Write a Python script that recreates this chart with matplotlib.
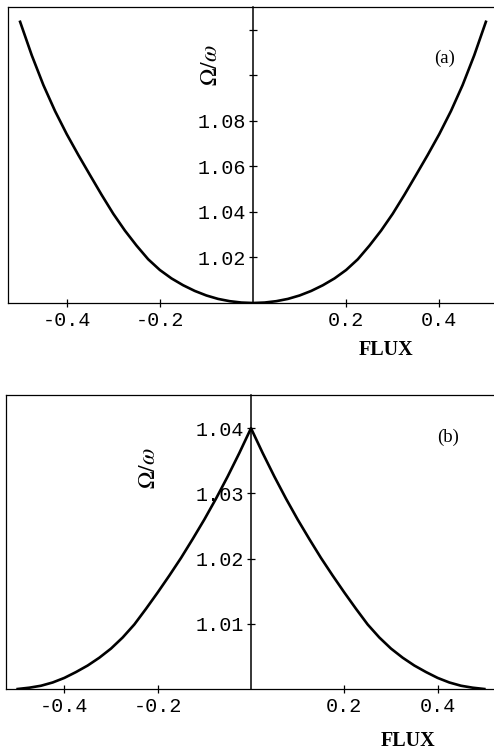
import matplotlib
matplotlib.use("Agg")
import matplotlib.pyplot as plt
from matplotlib.lines import Line2D

plt.rcParams["axes.unicode_minus"] = False

flux = [-0.500, -0.475, -0.450, -0.425, -0.400, -0.375, -0.350, -0.325, -0.300, -0.275,
        -0.250, -0.225, -0.200, -0.175, -0.150, -0.125, -0.100, -0.075, -0.050, -0.025,
        0.000,
        0.025, 0.050, 0.075, 0.100, 0.125, 0.150, 0.175, 0.200, 0.225, 0.250,
        0.275, 0.300, 0.325, 0.350, 0.375, 0.400, 0.425, 0.450, 0.475, 0.500]

# Panel (a): frequency ratio versus flux
ratio_a = [1.1235, 1.1088, 1.0957, 1.0843, 1.0742, 1.0650, 1.0562, 1.0475, 1.0392, 1.0318,
           1.0252, 1.0192, 1.0145, 1.0108, 1.0078, 1.0053, 1.0033, 1.0018, 1.0008, 1.0002,
           1.0000,
           1.0002, 1.0008, 1.0018, 1.0033, 1.0053, 1.0078, 1.0108, 1.0145, 1.0192, 1.0252,
           1.0318, 1.0392, 1.0475, 1.0562, 1.0650, 1.0742, 1.0843, 1.0957, 1.1088, 1.1235]

# Panel (b): frequency ratio versus flux, cusp at zero flux
ratio_b = [1.0000, 1.0002, 1.0005, 1.0010, 1.0017, 1.0026, 1.0036, 1.0048, 1.0062, 1.0079,
           1.0099, 1.0123, 1.0148, 1.0174, 1.0201, 1.0230, 1.0260, 1.0292, 1.0326, 1.0362,
           1.0400,
           1.0362, 1.0326, 1.0292, 1.0260, 1.0230, 1.0201, 1.0174, 1.0148, 1.0123, 1.0099,
           1.0079, 1.0062, 1.0048, 1.0036, 1.0026, 1.0017, 1.0010, 1.0005, 1.0002, 1.0000]

xticks = [-0.4, -0.2, 0.2, 0.4]
xtick_labels = ["-0.4", "-0.2", "0.2", "0.4"]
yticks_a = [1.02, 1.04, 1.06, 1.08, 1.10, 1.12]
ytick_labels_a = ["1.02", "1.04", "1.06", "1.08", "", ""]
yticks_b = [1.01, 1.02, 1.03, 1.04]
ytick_labels_b = ["1.01", "1.02", "1.03", "1.04"]

W, H = 494, 751
fig = plt.figure(figsize=(W / 100, H / 100), dpi=100)
fig.patch.set_facecolor("white")

mono = "Liberation Mono"
serif = "Liberation Serif"


def panel(rect_px, xlim, ylim, xs, ys, yticks, ylabels, tag, tag_xy, ylab_xy, flux_xy):
    l, t, r, b = rect_px
    ax = fig.add_axes([l / W, (H - b) / H, (r - l) / W, (b - t) / H])
    ax.set_xlim(*xlim)
    ax.set_ylim(*ylim)
    ax.plot(xs, ys, color="black", lw=1.9, solid_joinstyle="round", zorder=3)

    ax.spines["left"].set_position(("data", 0))
    ax.spines["left"].set_linewidth(1.1)
    for s in ("top", "right", "bottom"):
        ax.spines[s].set_linewidth(0.9)
    # outer left edge of the frame
    ax.add_line(Line2D([0, 0], [0, 1], transform=ax.transAxes, color="black",
                       lw=0.9, clip_on=False))

    ax.set_xticks(xticks)
    ax.set_xticklabels(xtick_labels, family=mono, fontsize=14.5)
    ax.set_yticks(yticks)
    ax.set_yticklabels(ylabels, family=mono, fontsize=14.5)
    ax.tick_params(axis="x", direction="inout", length=6, width=0.9, pad=3,
                   top=False)
    ax.tick_params(axis="y", direction="inout", length=6, width=0.9, pad=2,
                   right=False)

    fig.text(tag_xy[0] / W, 1 - tag_xy[1] / H, tag, family=serif, fontsize=13.5,
             ha="center", va="center")
    fig.text(ylab_xy[0] / W, 1 - ylab_xy[1] / H, r"$\Omega/\omega$", fontsize=17,
             rotation=90, ha="center", va="center",
             math_fontfamily="stix")
    fig.text(flux_xy[0] / W, 1 - flux_xy[1] / H, "FLUX", family=serif,
             fontweight="bold", fontsize=14.5, ha="center", va="center")
    return ax


panel((8, 7, 498, 303), (-0.526, 0.526), (1.0, 1.13), flux, ratio_a,
      yticks_a, ytick_labels_a, "(a)", (445, 58), (210, 65), (386, 350))
panel((6, 395, 496, 689), (-0.525, 0.525), (1.0, 1.0451), flux, ratio_b,
      yticks_b, ytick_labels_b, "(b)", (448, 437), (148, 468), (408, 741))

fig.savefig("out.png", dpi=100)
